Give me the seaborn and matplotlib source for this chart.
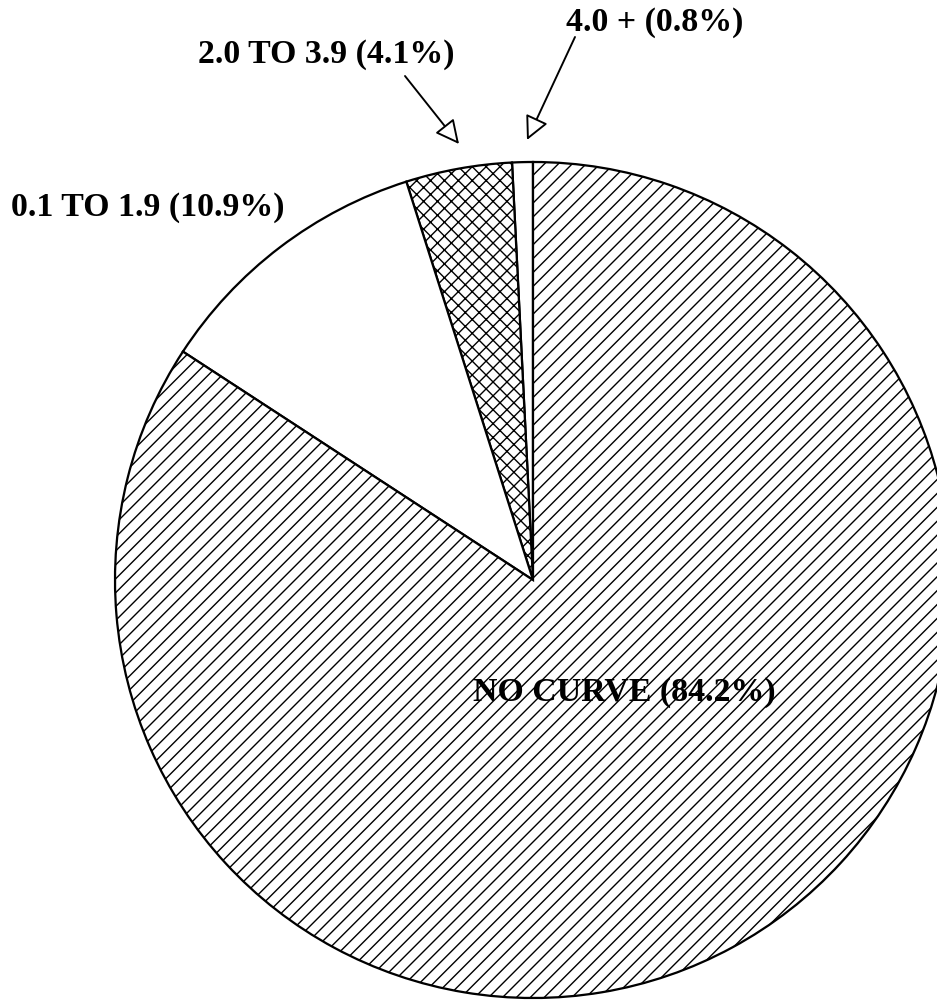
import matplotlib
matplotlib.use("Agg")
import matplotlib.pyplot as plt
import seaborn as sns

# slices in drawing order, counter-clockwise from 12 o'clock
categories = ["4.0 +", "2.0 TO 3.9", "0.1 TO 1.9", "NO CURVE"]
shares = [0.8, 4.1, 10.9, 84.2]
hatches = ["", "xxx", "", "///"]

sns.set_style("white")
plt.rcParams["hatch.linewidth"] = 0.8
plt.rcParams["font.family"] = ["Liberation Serif", "DejaVu Serif"]

W, H, DPI = 937, 1003, 125
fig = plt.figure(figsize=(W / DPI, H / DPI), dpi=DPI)
ax = fig.add_axes([0, 0, 1, 1])

def px(x, y):
    # pixel position (from top-left) -> data coords
    return x, H - y

wedges, _ = ax.pie(shares, startangle=90, counterclock=True,
                   center=px(533, 581), radius=418, frame=True,
                   colors=["white"] * len(shares),
                   wedgeprops=dict(edgecolor="black", linewidth=1.3))
for w, h in zip(wedges, hatches):
    w.set_hatch(h)

ax.set_xlim(0, W)
ax.set_ylim(0, H)
ax.set_aspect("equal")
ax.axis("off")

labels = [f"{c} ({s}%)" for c, s in zip(categories, shares)]
font = dict(fontsize=19.5, fontweight="bold", va="center", color="black")

ax.text(*px(566, 22), labels[0], ha="left", **font)
ax.text(*px(454, 54), labels[1], ha="right", **font)
ax.text(*px(11, 207), labels[2], ha="left", **font)
ax.text(*px(624, 693), labels[3], ha="center", **font)

arrow = dict(arrowstyle="-|>,head_length=0.9,head_width=0.45", fc="white",
             ec="black", lw=1.1, mutation_scale=13, shrinkA=0, shrinkB=0)
ax.annotate("", xy=px(459, 145), xytext=px(405, 77), arrowprops=arrow)
ax.annotate("", xy=px(527, 141), xytext=px(575, 38), arrowprops=arrow)

fig.savefig("out.png", dpi=DPI, facecolor="white")
